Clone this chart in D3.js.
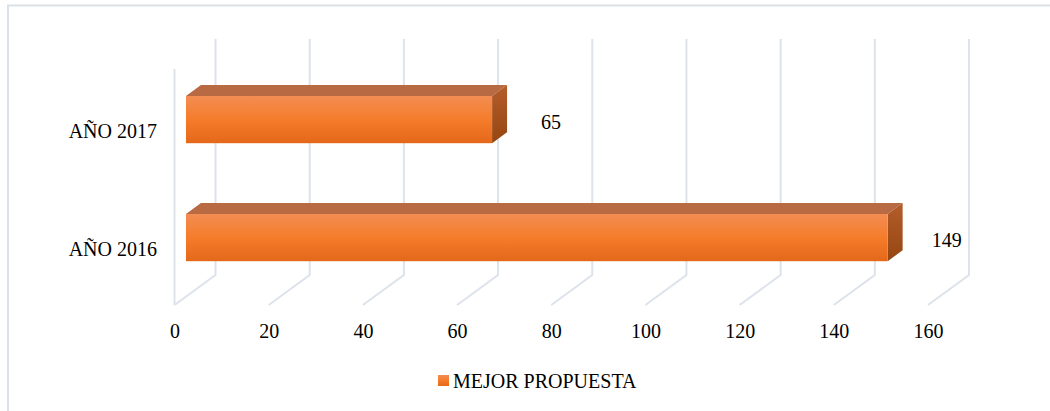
<!DOCTYPE html>
<html>
<head>
<meta charset="utf-8">
<script src="https://cdn.jsdelivr.net/npm/d3@7/dist/d3.min.js"></script>
<style>
	body { margin: 0; background: #fff; }
	svg { display: block; font-family: 'Liberation Serif', 'Times New Roman', serif; }
</style>
</head>
<body>
<svg></svg>
<script>
const w = 1050;
const h = 411;

// data
const categories = ['AÑO 2017', 'AÑO 2016'];
const values = [65, 149];
const seriesName = 'MEJOR PROPUESTA';
const tickValues = [0, 20, 40, 60, 80, 100, 120, 140, 160];

// 3d depth offset of the back wall
const depthX = 41;
const depthY = -30;
const barZ0 = 0.28;
const barZ1 = 0.645;
const fontSize = '20px';

let canvas = d3.select('svg').attr('width', w).attr('height', h);

const xScale = d3.scaleLinear().domain([0, 160]).range([174.5, 928]);
const yScale = d3.scaleBand().domain(categories).range([69, 305]).paddingInner(0.6).paddingOuter(0.3);
const yFloor = 305;
const yTop = 69;

// project a point at depth z (0 = front, 1 = back wall)
const px = (v, z) => xScale(v) + z * depthX;
const py = (y, z) => y + z * depthY;

const defs = canvas.append('defs');
const front = defs.append('linearGradient').attr('id', 'front').attr('x1', 0).attr('y1', 0).attr('x2', 0).attr('y2', 1);
front.append('stop').attr('offset', '0%').attr('stop-color', '#f38d52');
front.append('stop').attr('offset', '50%').attr('stop-color', '#f57c2b');
front.append('stop').attr('offset', '100%').attr('stop-color', '#e4681a');
const side = defs.append('linearGradient').attr('id', 'side').attr('x1', 0).attr('y1', 0).attr('x2', 0).attr('y2', 1);
side.append('stop').attr('offset', '0%').attr('stop-color', '#b35d2b');
side.append('stop').attr('offset', '100%').attr('stop-color', '#964612');

// outer border
canvas
	.append('rect')
	.attr('x', 8)
	.attr('y', 5.5)
	.attr('width', 1200)
	.attr('height', 600)
	.attr('fill', 'none')
	.attr('stroke', '#dce1e7')
	.attr('stroke-width', 2);

// gridlines: back wall + floor
const grid = canvas.append('g').attr('stroke', '#dde2eb').attr('stroke-width', 2).attr('fill', 'none');
grid
	.selectAll('path')
	.data(tickValues)
	.enter()
	.append('path')
	.attr('d', (v) =>
		d3.line()([
			[px(v, 1), py(yTop, 1)],
			[px(v, 1), py(yFloor, 1)],
			[px(v, 0), py(yFloor, 0)],
		])
	);
grid
	.append('line')
	.attr('x1', px(0, 0))
	.attr('x2', px(0, 0))
	.attr('y1', yTop)
	.attr('y2', yFloor);

// bars
const bars = canvas
	.selectAll('g.bar')
	.data(categories.map((c, i) => ({ cat: c, value: values[i] })))
	.enter()
	.append('g')
	.attr('class', 'bar');

bars
	.append('path')
	.attr('fill', '#b86b42')
	.attr('d', (d) => {
		const y0 = yScale(d.cat);
		return d3.line()([
			[px(0, barZ0), py(y0, barZ0)],
			[px(0, barZ1), py(y0, barZ1)],
			[px(d.value, barZ1), py(y0, barZ1)],
			[px(d.value, barZ0), py(y0, barZ0)],
		]) + 'Z';
	});

bars
	.append('path')
	.attr('fill', 'url(#side)')
	.attr('d', (d) => {
		const y0 = yScale(d.cat);
		const y1 = y0 + yScale.bandwidth();
		return d3.line()([
			[px(d.value, barZ0), py(y0, barZ0)],
			[px(d.value, barZ1), py(y0, barZ1)],
			[px(d.value, barZ1), py(y1, barZ1)],
			[px(d.value, barZ0), py(y1, barZ0)],
		]) + 'Z';
	});

bars
	.append('rect')
	.attr('fill', 'url(#front)')
	.attr('x', px(0, barZ0))
	.attr('y', (d) => py(yScale(d.cat), barZ0))
	.attr('width', (d) => xScale(d.value) - xScale(0))
	.attr('height', yScale.bandwidth());

// value labels
bars
	.append('text')
	.attr('x', (d) => px(d.value, barZ0) + 59)
	.attr('y', (d) => py(yScale(d.cat) + yScale.bandwidth() / 2, barZ0) + 2)
	.attr('text-anchor', 'middle')
	.attr('dominant-baseline', 'central')
	.attr('font-size', fontSize)
	.attr('fill', '#000')
	.text((d) => d.value);

// category labels
canvas
	.append('g')
	.selectAll('text')
	.data(categories)
	.enter()
	.append('text')
	.attr('x', 157)
	.attr('y', (c) => yScale(c) + yScale.bandwidth() / 2 + 3)
	.attr('text-anchor', 'end')
	.attr('dominant-baseline', 'central')
	.attr('font-size', fontSize)
	.attr('fill', '#000')
	.text((c) => c);

// x axis labels
let xAxis = d3.axisBottom(xScale).tickValues(tickValues).tickSize(0).tickFormat(d3.format('d'));
const axisG = canvas.append('g').attr('transform', `translate(0, ${yFloor})`).call(xAxis);
axisG.select('.domain').remove();
axisG
	.selectAll('text')
	.attr('y', 26)
	.attr('dy', null)
	.attr('dominant-baseline', 'central')
	.attr('font-size', fontSize)
	.attr('font-family', "'Liberation Serif', 'Times New Roman', serif")
	.attr('fill', '#000');

// legend
const legend = canvas.append('g');
legend.append('rect').attr('x', 438).attr('y', 375).attr('width', 11).attr('height', 11).attr('fill', 'url(#front)');
legend
	.append('text')
	.attr('x', 453)
	.attr('y', 381)
	.attr('dominant-baseline', 'central')
	.attr('font-size', fontSize)
	.attr('fill', '#000')
	.text(seriesName);
</script>
</body>
</html>
